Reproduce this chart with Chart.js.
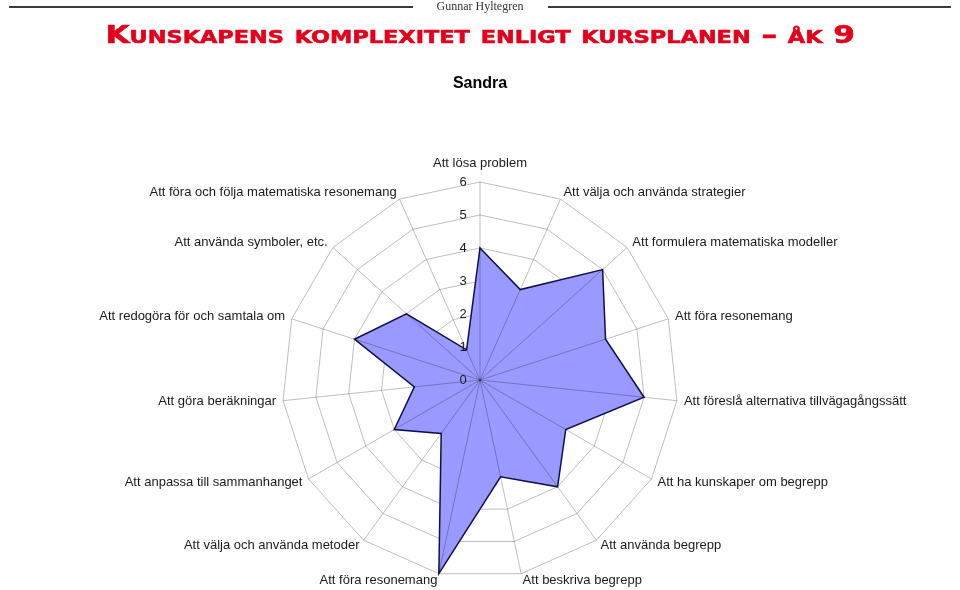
<!DOCTYPE html>
<html lang="sv">
<head>
<meta charset="utf-8">
<title>Sandra</title>
<script src="https://cdn.jsdelivr.net/npm/chart.js@4.4.1/dist/chart.umd.min.js"></script>
<style>
    html, body { margin: 0; padding: 0; background: #fff; overflow: hidden; }
    #wrap { position: relative; width: 960px; height: 600px; }
    #chart { position: absolute; left: 0; top: 0; }
    .topline { position: absolute; left: 9px; right: 9px; top: 0; height: 13px; display: flex; align-items: center; }
    .topline .rule { flex: 1; height: 2px; background: #3a3a3a; }
    .topline span { font-family: "Liberation Serif", "DejaVu Serif", serif; font-size: 12px; color: #333; padding: 0 24px; }
    .heading { position: absolute; left: 0; right: 0; top: 22px; text-align: center; }
    .heading span { display: inline-block; font-family: "DejaVu Sans", sans-serif; font-weight: bold; font-size: 25px;
        line-height: 25px; font-variant: small-caps; color: #e4001b; -webkit-text-stroke: 0.6px #e4001b;
        white-space: nowrap; transform-origin: center; }
</style>
</head>
<body>
<div id="wrap">
    <canvas id="chart" width="960" height="600"></canvas>
    <div class="topline"><div class="rule"></div><span>Gunnar Hyltegren</span><div class="rule"></div></div>
    <div class="heading"><span id="heading">Kunskapens komplexitet enligt kursplanen – åk 9</span></div>
</div>
<script>
const labels = [
    'Att lösa problem',
    'Att välja och använda strategier',
    'Att formulera matematiska modeller',
    'Att föra resonemang',
    'Att föreslå alternativa tillvägagångssätt',
    'Att ha kunskaper om begrepp',
    'Att använda begrepp',
    'Att beskriva begrepp',
    'Att föra resonemang',
    'Att välja och använda metoder',
    'Att anpassa till sammanhanget',
    'Att göra beräkningar',
    'Att redogöra för och samtala om',
    'Att använda symboler, etc.',
    'Att föra och följa matematiska resonemang'
];
const sandra = [4, 3, 5, 4, 5, 3, 4, 3, 6, 2, 3, 2, 4, 3, 1];
const scaleMin = 0;
const scaleMax = 6;
const studentName = 'Sandra';

// stretch the heading to the width it has in the original
const heading = document.getElementById('heading');
heading.style.transform = 'scaleX(' + (750 / heading.offsetWidth).toFixed(3) + ')';

Chart.defaults.font.family = '"Liberation Sans", Arial, sans-serif';
Chart.defaults.color = '#1a1a1a';

// radial lines over the fill, tick numbers left of the top axis, category labels centred on their spoke
const overlay = {
    id: 'overlay',
    afterDatasetsDraw(chart) {
        const r = chart.scales.r;
        const ctx = chart.ctx;
        ctx.save();
        ctx.strokeStyle = 'rgba(0,0,0,0.25)';
        ctx.lineWidth = 1;
        for (let i = 0; i < labels.length; i++) {
            const p = r.getPointPositionForValue(i, scaleMax);
            ctx.beginPath();
            ctx.moveTo(r.xCenter, r.yCenter);
            ctx.lineTo(p.x, p.y);
            ctx.stroke();
        }
        ctx.fillStyle = '#1a1a1a';
        ctx.font = '13px "Liberation Sans", Arial, sans-serif';
        ctx.textAlign = 'center';
        ctx.textBaseline = 'middle';
        r.ticks.forEach(t => {
            const d = r.getDistanceFromCenterForValue(t.value);
            ctx.fillText(String(t.value), r.xCenter - 17, r.yCenter - d);
        });
        labels.forEach((lbl, i) => {
            const p = r.getPointPosition(i, r.drawingArea + 7);
            const deg = Math.round(r.getIndexAngle(i) * 180 / Math.PI) % 360;
            let y = p.y;
            if (deg === 0) {
                ctx.textAlign = 'center';
                y -= 12;
            } else if (deg === 180) {
                ctx.textAlign = 'center';
                y += 12;
            } else {
                ctx.textAlign = deg < 180 ? 'left' : 'right';
            }
            ctx.fillText(lbl, p.x, y);
        });
        ctx.restore();
    }
};

new Chart(document.getElementById('chart'), {
    type: 'radar',
    data: {
        labels: labels,
        datasets: [{
            label: studentName,
            data: sandra,
            backgroundColor: '#9999ff',
            borderColor: '#10104a',
            borderWidth: 1.5,
            pointRadius: 0,
            tension: 0
        }]
    },
    options: {
        responsive: false,
        animation: false,
        layout: { padding: { top: 0, bottom: 22 } },
        plugins: {
            legend: { display: false },
            tooltip: { enabled: false },
            title: {
                display: true,
                text: studentName,
                color: '#000',
                font: { size: 16, weight: 'bold' },
                padding: { top: 74, bottom: 88.8 }
            }
        },
        scales: {
            r: {
                min: scaleMin,
                max: scaleMax,
                ticks: { display: false, stepSize: 1 },
                grid: { color: '#bfbfbf', lineWidth: 1 },
                angleLines: { display: false },
                pointLabels: { display: false }
            }
        }
    },
    plugins: [overlay]
});
</script>
</body>
</html>
